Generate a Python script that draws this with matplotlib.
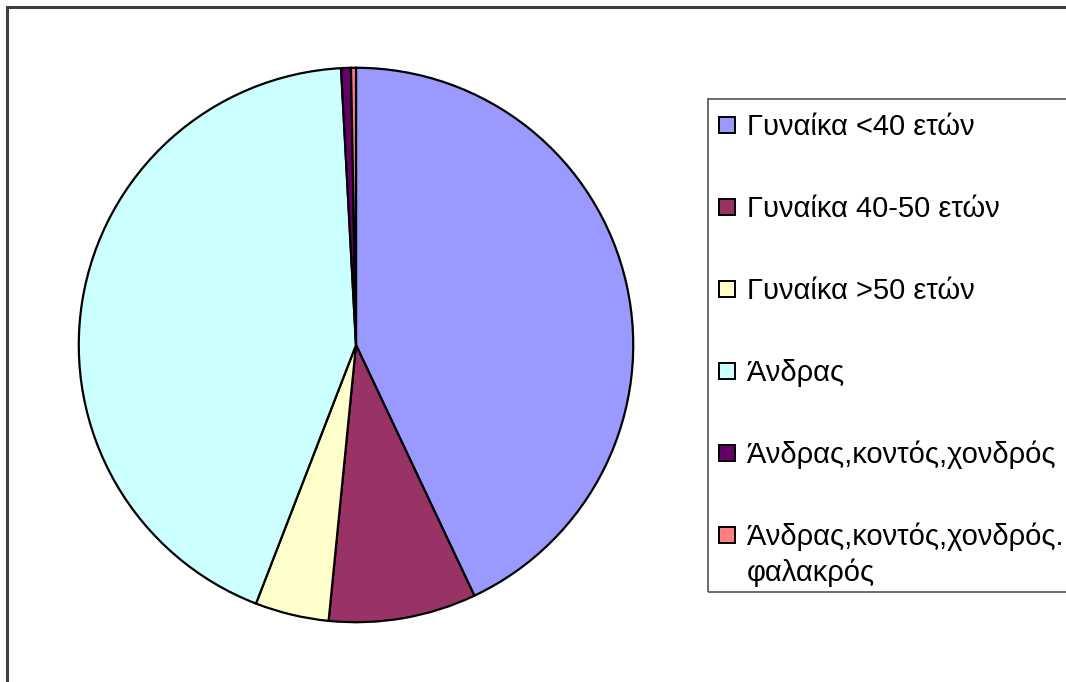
import matplotlib.pyplot as plt
from matplotlib.patches import Rectangle

plt.rcParams['font.family'] = ['Liberation Sans', 'DejaVu Sans']

# counts per group
labels = ["Γυναίκα <40 ετών", "Γυναίκα 40-50 ετών", "Γυναίκα >50 ετών",
          "Άνδρας", "Άνδρας,κοντός,χονδρός", "Άνδρας,κοντός,χονδρός.\nφαλακρός"]
counts = [150, 30, 15, 151, 2, 1]
colors = ["#9999FF", "#993366", "#FFFFCC", "#CCFFFF", "#660066", "#FF8080"]

W, H = 1066, 682
fig = plt.figure(figsize=(W / 100, H / 100), dpi=100)

# outer chart frame (runs off the right and bottom edges)
fig.patches.append(Rectangle((7 / W, -0.05), 1.1, 1 - 7 / H + 0.05,
                             transform=fig.transFigure, fill=False,
                             edgecolor='#404040', linewidth=2.2))

cx, cy, r = 356, 345, 280
ax = fig.add_axes([(cx - r) / W, (H - cy - r) / H, 2 * r / W, 2 * r / H])
ax.pie(counts, colors=colors, startangle=90, counterclock=False, radius=1,
       wedgeprops=dict(edgecolor='black', linewidth=1.6))
ax.set_xlim(-1.01, 1.01)
ax.set_ylim(-1.01, 1.01)
ax.set_aspect('equal')
ax.axis('off')

# legend box, cropped at the right edge
fig.patches.append(Rectangle((708 / W, 1 - 592 / H), 0.5, (592 - 99) / H,
                             transform=fig.transFigure, fill=False,
                             edgecolor='#606060', linewidth=1.3))

baselines = [135, 217, 299, 381, 463, 545]
for lab, col, yb in zip(labels, colors, baselines):
    fig.patches.append(Rectangle((719 / W, 1 - (yb - 2) / H), 16 / W, 16 / H,
                                 transform=fig.transFigure, facecolor=col,
                                 edgecolor='black', linewidth=1.4))
    for k, line in enumerate(lab.split("\n")):
        fig.text(747 / W, 1 - (yb + 36 * k) / H, line, fontsize=21,
                 va='baseline', ha='left')

fig.savefig("out.png", dpi=100)
